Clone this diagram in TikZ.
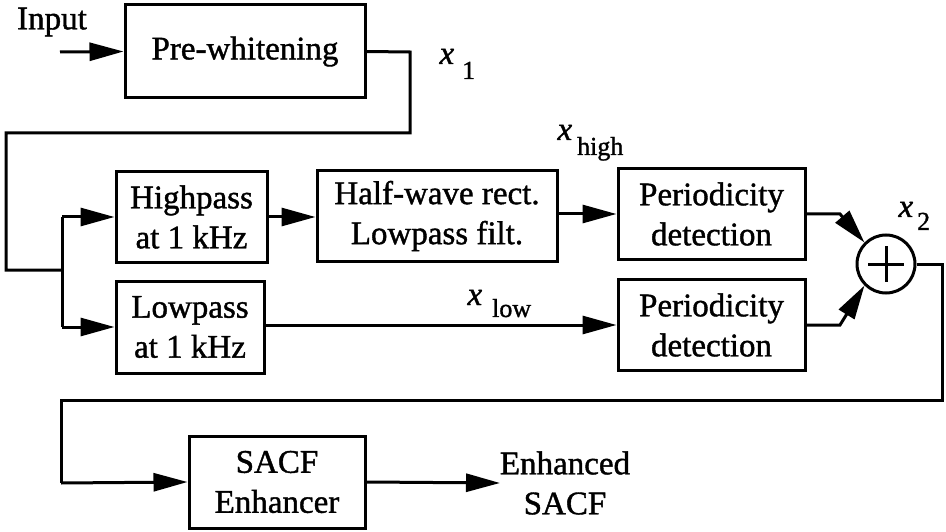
\documentclass[tikz,border=0pt]{standalone}
\usepackage{fontspec}
\setmainfont{Liberation Serif}[FakeBold=1.2,AutoFakeBold=1.2]
\usetikzlibrary{arrows.meta,calc}
\begin{document}
\begin{tikzpicture}[x=1pt,y=-1pt,line width=3pt,
  blk/.style={draw,inner sep=0pt,align=center,font=\fontsize{33}{40}\selectfont\bfseries},
  lbl/.style={inner sep=0pt,font=\fontsize{33}{40}\selectfont\bfseries},
  arr/.style={-{Triangle[length=34pt,width=18pt]}}]
\useasboundingbox (0,0) rectangle (946,532);
% blocks
\node[blk,minimum width=240pt,minimum height=93pt] (prew) at (245,51.5) {Pre-whitening};
\node[blk,minimum width=151pt,minimum height=90pt] (hp) at (191.5,217) {Highpass\\at 1 kHz};
\node[blk,minimum width=240pt,minimum height=90pt] (hw) at (437,216) {Half-wave rect.\\Lowpass filt.};
\node[blk,minimum width=187pt,minimum height=90pt] (pd1) at (711.5,214) {Periodicity\\detection};
\node[blk,minimum width=187pt,minimum height=91pt] (pd2) at (711.5,325) {Periodicity\\detection};
\node[blk,minimum width=148pt,minimum height=92pt] (lp) at (190,327) {Lowpass\\at 1 kHz};
\node[blk,minimum width=176pt,minimum height=92pt] (sacf) at (277,482) {SACF\\Enhancer};
\node[draw,circle,minimum size=58pt,inner sep=0pt] (sum) at (886,264) {};
\draw[line width=3pt] ($(sum.center)+(-18,0)$) -- ($(sum.center)+(18,0)$);
\draw[line width=3pt] ($(sum.center)+(0,-18)$) -- ($(sum.center)+(0,18)$);
% texts
\node[lbl] (in) at (52,22) {Input};
\node[lbl,align=center] (out) at (565,483) {Enhanced\\SACF};
\node[lbl,anchor=base west] (x1) at (438,64) {\textit{x}\hspace{8pt}\raisebox{-15pt}{\fontsize{26}{26}\selectfont 1}};
\node[lbl,anchor=base west] (xh) at (556,140) {\textit{x}\hspace{5pt}\raisebox{-15pt}{\fontsize{26}{26}\selectfont high}};
\node[lbl,anchor=base west] (x2) at (897,217) {\textit{x}\hspace{4pt}\raisebox{-13pt}{\fontsize{26}{26}\selectfont 2}};
\node[lbl,anchor=base west] (xl) at (466,305) {\textit{x}\hspace{10pt}\raisebox{-12pt}{\fontsize{26}{26}\selectfont low}};
% coordinates
\coordinate (inS) at (60,52);
\coordinate (c1) at (410,52);
\coordinate (c2) at (410,133);
\coordinate (c3) at (6,133);
\coordinate (c4) at (6,270);
\coordinate (br) at (62,270);
\coordinate (bt) at (62,217);
\coordinate (bb) at (62,327);
\coordinate (u1) at (840,214);
\coordinate (l1) at (840,325);
\coordinate (f1) at (942,264);
\coordinate (f2) at (942,400);
\coordinate (f3) at (61,400);
\coordinate (f4) at (61,483);
% connectors
\draw[arr] (inS) -- (prew.west);
\draw (prew.east) -- (c1) -- (c2) -- (c3) -- (c4) -- (br);
\draw (bt) -- (bb);
\draw[arr] (bt) -- (hp.west);
\draw[arr] (bb) -- (lp.west);
\draw[arr] (hp.east) -- (hp.east -| hw.west);
\draw[arr] (hw.east |- pd1.west) -- (pd1.west);
\draw[arr] (lp.east |- pd2.west) -- (pd2.west);
\draw[arr] (pd1.east) -- (u1) -- (sum.135);
\draw[arr] (pd2.east) -- (l1) -- (sum.225);
\draw (sum.east) -- (f1) -- (f2) -- (f3) -- (f4);
\draw[arr] (f4) -- (sacf.west);
\coordinate (o1) at (500,483);
\draw[arr] (sacf.east) -- (o1);
\end{tikzpicture}
\end{document}
